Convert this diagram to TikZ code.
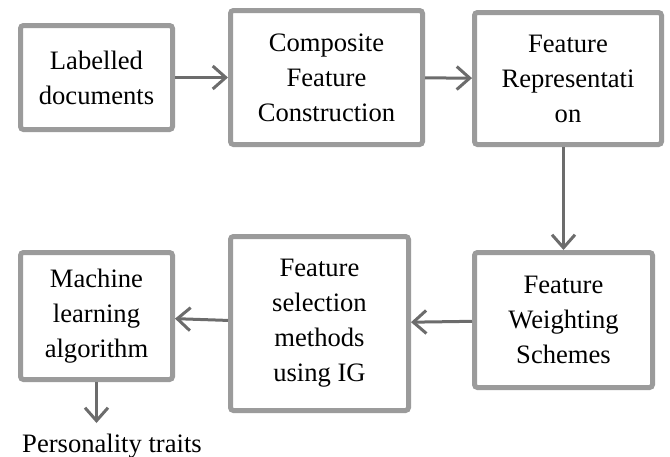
\documentclass[tikz,border=0pt]{standalone}
\usepackage{fontspec}
\setmainfont{Liberation Serif}
\usepackage{tikz}
\usetikzlibrary{arrows.meta, calc, positioning}
\usepackage{xcolor}
\definecolor{boxgray}{RGB}{155,155,155}
\definecolor{arrgray}{RGB}{108,108,108}

\begin{document}
\begin{tikzpicture}[x=0.5pt, y=-0.5pt,
  box/.style={draw=boxgray, line width=2.5pt, rounded corners=1.5pt,
    align=center, inner sep=2pt, font=\fontsize{13.3pt}{17.5pt}\selectfont},
  arr/.style={draw=arrgray, line width=1.5pt,
    -{Straight Barb[length=6.5pt, width=11.5pt, line width=1.5pt]}}]
\useasboundingbox (0,0) rectangle (670,456);

% top row
\node[box, minimum width=76pt, minimum height=52pt] (labelled) at (96.5,77.5)
  {Labelled\\documents};
\node[box, minimum width=96pt, minimum height=67pt] (composite) at (326.5,77.5)
  {Composite\\Feature\\Construction};
\node[box, minimum width=93.5pt, minimum height=66pt] (represent) at (568,78.5)
  {Feature\\Representati\\on};

% bottom row
\node[box, minimum width=89pt, minimum height=67.5pt] (weighting) at (563.5,320)
  {Feature\\Weighting\\Schemes};
\node[box, minimum width=89pt, minimum height=87pt] (selection) at (319.5,323.5)
  {Feature\\selection\\methods\\using IG};
\node[box, minimum width=76pt, minimum height=63.5pt] (learning) at (96.5,316)
  {Machine\\learning\\algorithm};
\node[anchor=north, inner xsep=1pt, inner ysep=5.5pt,
  font=\fontsize{13.3pt}{17.5pt}\selectfont]
  (traits) at (112,423) {Personality traits};

\draw[arr] (labelled) -- (composite);
\draw[arr] (composite) -- (represent);
\draw[arr] (weighting.north |- represent.south) -- (weighting.north);
\draw[arr] (weighting) -- (selection);
\draw[arr] (selection) -- (learning);
\draw[arr] (learning.south) -- (learning.south |- traits.north);

\end{tikzpicture}
\end{document}
